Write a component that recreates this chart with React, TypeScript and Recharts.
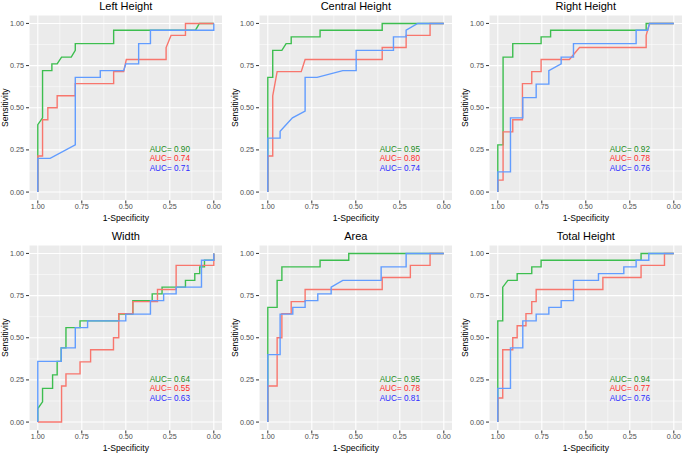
import React from "react";
import { LineChart, Line, XAxis, YAxis, CartesianGrid, ReferenceDot } from "recharts";

type Pt = [number, number];

const titles = ["Left Height", "Central Height", "Right Height", "Width", "Area", "Total Height"];
const aucGreen = ["0.90", "0.95", "0.92", "0.64", "0.95", "0.94"];
const aucRed = ["0.74", "0.80", "0.78", "0.55", "0.78", "0.77"];
const aucBlue = ["0.71", "0.74", "0.76", "0.63", "0.81", "0.76"];
const majorTicks = [0, 0.25, 0.5, 0.75, 1];
const minorTicks = [0.125, 0.375, 0.625, 0.875];

// [specificity, sensitivity]
const leftGreen: Pt[] = [[1,0],[1,0.4],[0.973,0.44],[0.973,0.72],[0.92,0.72],[0.92,0.76],[0.89,0.76],[0.865,0.8],[0.81,0.8],[0.787,0.84],[0.787,0.88],[0.569,0.88],[0.569,0.96],[0.104,0.96],[0.082,1],[0,1]];
const leftRed: Pt[] = [[1,0],[1,0.214],[0.973,0.214],[0.973,0.429],[0.943,0.429],[0.943,0.5],[0.89,0.5],[0.89,0.571],[0.787,0.571],[0.787,0.643],[0.569,0.643],[0.569,0.714],[0.512,0.714],[0.497,0.786],[0.271,0.786],[0.271,0.857],[0.243,0.929],[0.161,0.929],[0.161,1],[0,1]];
const leftBlue: Pt[] = [[1,0],[1,0.2],[0.93,0.2],[0.787,0.28],[0.787,0.68],[0.645,0.68],[0.645,0.72],[0.512,0.72],[0.5,0.76],[0.427,0.76],[0.427,0.88],[0.36,0.88],[0.36,0.96],[0,0.96],[0,1]];

const centralGreen: Pt[] = [[1,0],[1,0.68],[0.972,0.68],[0.972,0.84],[0.92,0.84],[0.896,0.88],[0.867,0.88],[0.867,0.92],[0.703,0.92],[0.703,0.96],[0.35,0.96],[0.35,1],[0,1]];
const centralRed: Pt[] = [[1,0],[1,0.214],[0.972,0.214],[0.972,0.571],[0.947,0.714],[0.81,0.714],[0.788,0.786],[0.35,0.786],[0.35,0.857],[0.214,0.857],[0.214,0.929],[0.078,0.929],[0.078,1],[0,1]];
const centralBlue: Pt[] = [[1,0],[1,0.32],[0.93,0.32],[0.93,0.36],[0.86,0.44],[0.788,0.48],[0.788,0.68],[0.72,0.68],[0.574,0.72],[0.498,0.72],[0.498,0.84],[0.286,0.84],[0.286,0.92],[0.214,0.92],[0.214,0.96],[0.148,1],[0,1]];

const rightGreen: Pt[] = [[1,0],[1,0.28],[0.97,0.28],[0.97,0.8],[0.915,0.8],[0.915,0.88],[0.754,0.88],[0.754,0.92],[0.7,0.92],[0.7,0.96],[0.157,0.96],[0.157,1],[0,1]];
const rightRed: Pt[] = [[1,0],[1,0.071],[0.97,0.071],[0.97,0.357],[0.915,0.357],[0.915,0.429],[0.86,0.429],[0.86,0.643],[0.807,0.643],[0.807,0.714],[0.754,0.714],[0.754,0.786],[0.593,0.786],[0.536,0.857],[0.157,0.857],[0.157,0.929],[0.138,1],[0,1]];
const rightBlue: Pt[] = [[1,0],[1,0.12],[0.928,0.12],[0.928,0.44],[0.858,0.44],[0.858,0.56],[0.782,0.56],[0.782,0.64],[0.71,0.64],[0.71,0.72],[0.64,0.76],[0.64,0.8],[0.57,0.8],[0.57,0.88],[0.214,0.88],[0.214,0.96],[0.148,0.96],[0.138,1],[0,1]];

const widthGreen: Pt[] = [[1,0],[1,0.08],[0.973,0.12],[0.973,0.2],[0.916,0.2],[0.916,0.28],[0.89,0.28],[0.89,0.36],[0.867,0.36],[0.867,0.44],[0.84,0.44],[0.84,0.56],[0.76,0.56],[0.76,0.6],[0.54,0.6],[0.54,0.64],[0.46,0.64],[0.46,0.72],[0.35,0.72],[0.35,0.76],[0.294,0.76],[0.294,0.8],[0.161,0.8],[0.161,0.84],[0.108,0.84],[0.108,0.88],[0.08,0.88],[0.08,0.92],[0.053,0.92],[0.053,0.96],[0,0.96],[0,1]];
const widthRed: Pt[] = [[1,0],[0.865,0],[0.865,0.214],[0.84,0.214],[0.84,0.286],[0.76,0.286],[0.76,0.357],[0.7,0.357],[0.7,0.429],[0.57,0.429],[0.57,0.5],[0.54,0.5],[0.54,0.643],[0.46,0.643],[0.46,0.714],[0.32,0.714],[0.32,0.786],[0.214,0.786],[0.214,0.929],[0,0.929],[0,1]];
const widthBlue: Pt[] = [[1,0],[1,0.36],[0.867,0.36],[0.867,0.44],[0.787,0.44],[0.787,0.56],[0.717,0.56],[0.717,0.6],[0.5,0.6],[0.5,0.64],[0.36,0.64],[0.36,0.72],[0.285,0.72],[0.285,0.76],[0.214,0.76],[0.214,0.8],[0.07,0.8],[0.07,0.96],[0,0.96],[0,1]];

const areaGreen: Pt[] = [[1,0],[1,0.68],[0.947,0.68],[0.947,0.84],[0.92,0.84],[0.92,0.92],[0.703,0.92],[0.703,0.96],[0.54,0.96],[0.54,1],[0,1]];
const areaRed: Pt[] = [[1,0],[1,0.214],[0.947,0.214],[0.947,0.5],[0.92,0.5],[0.92,0.643],[0.867,0.643],[0.867,0.714],[0.788,0.714],[0.788,0.786],[0.35,0.786],[0.35,0.857],[0.19,0.857],[0.19,0.929],[0.078,0.929],[0.078,1],[0,1]];
const areaBlue: Pt[] = [[1,0],[1,0.4],[0.93,0.4],[0.93,0.64],[0.858,0.64],[0.858,0.68],[0.788,0.68],[0.788,0.72],[0.716,0.72],[0.716,0.76],[0.64,0.76],[0.64,0.8],[0.574,0.84],[0.356,0.84],[0.356,0.92],[0.214,0.92],[0.214,1],[0,1]];

const totalGreen: Pt[] = [[1,0],[1,0.6],[0.972,0.6],[0.972,0.8],[0.943,0.84],[0.89,0.84],[0.89,0.88],[0.807,0.88],[0.807,0.92],[0.754,0.92],[0.754,0.96],[0.186,0.96],[0.186,1],[0,1]];
const totalRed: Pt[] = [[1,0],[1,0.143],[0.972,0.143],[0.972,0.429],[0.915,0.429],[0.915,0.5],[0.89,0.5],[0.89,0.571],[0.84,0.571],[0.84,0.643],[0.807,0.643],[0.807,0.714],[0.782,0.714],[0.782,0.786],[0.403,0.786],[0.403,0.857],[0.186,0.857],[0.186,0.929],[0.053,0.929],[0.053,1],[0,1]];
const totalBlue: Pt[] = [[1,0],[1,0.2],[0.928,0.2],[0.928,0.44],[0.858,0.44],[0.858,0.6],[0.782,0.6],[0.782,0.64],[0.71,0.64],[0.71,0.68],[0.64,0.68],[0.64,0.72],[0.57,0.72],[0.57,0.84],[0.428,0.84],[0.428,0.88],[0.284,0.88],[0.284,0.92],[0.214,0.92],[0.214,0.96],[0.142,0.96],[0.142,1],[0,1]];

const curves: Pt[][][] = [
  [leftGreen, leftRed, leftBlue],
  [centralGreen, centralRed, centralBlue],
  [rightGreen, rightRed, rightBlue],
  [widthGreen, widthRed, widthBlue],
  [areaGreen, areaRed, areaBlue],
  [totalGreen, totalRed, totalBlue],
];

const lineColors = ["#3DBE4F", "#F8766D", "#619CFF"];
const textColors = ["#228B22", "#FF2A2A", "#2A2AFF"];
const aucY = [0.256, 0.2, 0.144];

const toPts = (a: Pt[]) => a.map(([x, y]) => ({ x, y }));
const fmt = (v: number) => v.toFixed(2);
const tickStyle = { fontSize: 7.2, fill: "#4D4D4D" };

function RocPanel({ i }: { i: number }) {
  const col = i % 3;
  const row = Math.floor(i / 3);
  const aucs = [aucGreen[i], aucRed[i], aucBlue[i]];
  return (
    <div style={{ position: "absolute", left: col * 230, top: row * 230, width: 230, height: 230 }}>
      <div style={{ position: "absolute", left: 29, width: 193.6, top: -0.5, textAlign: "center", fontSize: 11, lineHeight: "13px", color: "#000" }}>
        {titles[i]}
      </div>
      <LineChart width={230} height={230} margin={{ top: 15, right: 7.4, bottom: 5.5, left: 0 }}>
        <CartesianGrid fill="#EBEBEB" stroke="#FFFFFF" strokeWidth={0.5} verticalValues={minorTicks} horizontalValues={minorTicks} />
        <CartesianGrid stroke="#FFFFFF" strokeWidth={1.1} />
        <XAxis
          type="number"
          dataKey="x"
          domain={[-0.05, 1.05]}
          reversed
          ticks={majorTicks}
          tickFormatter={fmt}
          tick={tickStyle}
          axisLine={false}
          tickLine={{ stroke: "#333333" }}
          tickSize={3}
          tickMargin={0}
          height={24}
          label={{ value: "1-Specificity", position: "insideBottom", offset: 3.5, fontSize: 8.6, fill: "#000" }}
        />
        <YAxis
          type="number"
          domain={[-0.05, 1.05]}
          ticks={majorTicks}
          tickFormatter={fmt}
          tick={tickStyle}
          axisLine={false}
          tickLine={{ stroke: "#333333" }}
          tickSize={3}
          tickMargin={2}
          width={29}
          label={{ value: "Sensitivity", angle: -90, position: "insideLeft", offset: 5, fontSize: 8.6, fill: "#000", style: { textAnchor: "middle" } }}
        />
        {curves[i].map((c, k) => (
          <Line
            key={k}
            data={toPts(c)}
            dataKey="y"
            type="linear"
            stroke={lineColors[k]}
            strokeWidth={1.4}
            dot={false}
            activeDot={false}
            isAnimationActive={false}
          />
        ))}
        {aucs.map((a, k) => (
          <ReferenceDot
            key={k}
            x={0.25}
            y={aucY[k]}
            r={0}
            fill="none"
            stroke="none"
            ifOverflow="visible"
            label={{ value: "AUC= " + a, position: "center", fontSize: 8.2, fill: textColors[k] }}
          />
        ))}
      </LineChart>
    </div>
  );
}

export default function App() {
  return (
    <div style={{ position: "absolute", left: 0, top: 0, width: 684, height: 453, overflow: "hidden", background: "#fff", fontFamily: "'Liberation Sans', Arial, sans-serif" }}>
      {titles.map((_, i) => (
        <RocPanel key={i} i={i} />
      ))}
    </div>
  );
}
